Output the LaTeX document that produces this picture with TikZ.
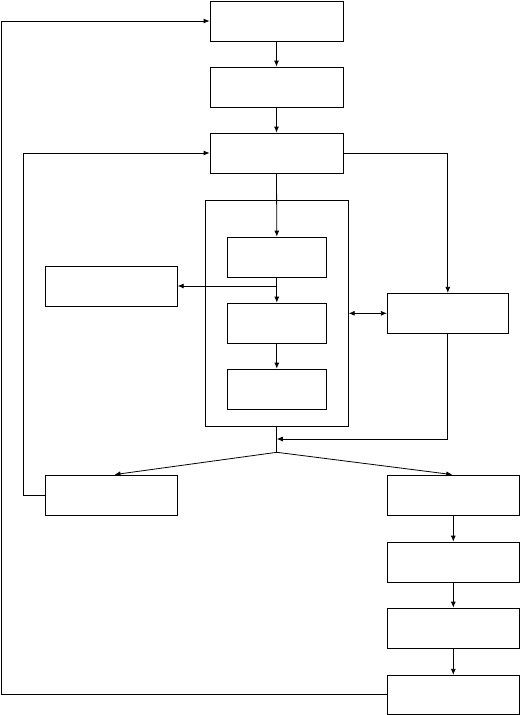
\documentclass[tikz,border=0pt]{standalone}
\usepackage{tikz}
\usetikzlibrary{arrows.meta,positioning,calc}

\begin{document}
\begin{tikzpicture}[
            x=1pt, y=-1pt,
            box/.style={draw=black, line width=0.8pt, minimum width=133pt, minimum height=40pt, inner sep=0pt},
            inbox/.style={box, minimum width=99pt},
            sbox/.style={box, minimum width=132pt},
            frm/.style={draw=black, line width=0.8pt, minimum width=143pt, minimum height=226pt, inner sep=0pt},
            lnk/.style={line width=0.8pt},
            arr/.style={lnk, -{Latex[length=6pt,width=5pt]}},
            darr/.style={lnk, {Latex[length=6pt,width=5pt]}-{Latex[length=6pt,width=5pt]}}
        ]
        \useasboundingbox (0,0) rectangle (520,715);

        % =============== kolom atas ===============
        \node[box] (top)  at (276.5,21)  {};
        \node[box] (mid)  at (276.5,87)  {};
        \node[box] (hub)  at (276.5,153) {};

        % =============== blok tengah dengan tiga kotak ===============
        \node[frm]   (frame) at (276.8,313.3) {};
        \node[inbox] (inA)   at (276.8,257)   {};
        \node[inbox] (inB)   at (276.8,323)   {};
        \node[inbox] (inC)   at (276.8,389)   {};

        \node[sbox] (side)  at (111.3,286) {};
        \node[box, minimum width=121pt] (aux) at (447.8,313.3) {};

        % =============== cabang bawah ===============
        \node[sbox] (back) at (111.5,495)   {};
        \node[sbox] (rA)   at (453.3,495)   {};
        \node[sbox] (rB)   at (453.3,562)   {};
        \node[sbox] (rC)   at (453.3,628)   {};
        \node[sbox, minimum height=39pt] (rD) at (453.3,694.8) {};

        \coordinate (join)  at (276.8,439);
        \coordinate (split) at (276.8,452.3);

        % panah utama
        \draw[arr] (top) -- (mid);
        \draw[arr] (mid) -- (hub);
        \draw[arr] (hub.south) -- (inA.north);
        \draw[arr] (inA) -- (inB);
        \draw[arr] (inB) -- (inC);
        \draw[arr] (inA.south |- side.east) -- (side.east);
        \draw[darr] (frame.east) -- (aux.west);
        \draw[arr] (hub.east) -| (aux.north);
        \draw[arr] (aux.south) |- (join);
        \draw[lnk] (frame.south) -- (split);
        \draw[arr] (split) -- ($(back.north)+(3,0)$);
        \draw[arr] (split) -- ($(rA.north)+(-1,0)$);
        \draw[arr] (rA) -- (rB);
        \draw[arr] (rB) -- (rC);
        \draw[arr] (rC) -- (rD);

        % umpan balik
        \draw[arr] (back.west) -- ++(-22,0) |- (hub.west);
        \draw[arr] (rD.west) -- ++(-385.6,0) |- (top.west);
    \end{tikzpicture}
\end{document}
